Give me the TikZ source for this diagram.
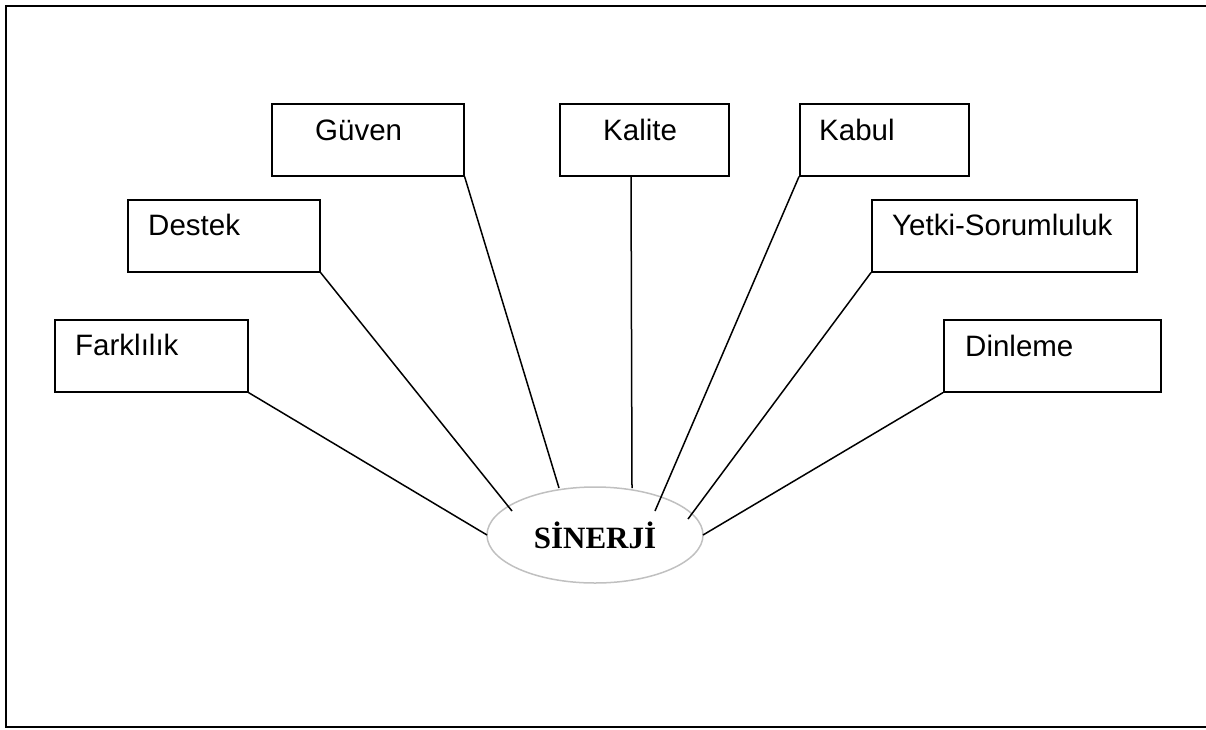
\documentclass[tikz,border=0pt]{standalone}
\usepackage{fontspec}
\setmainfont{Liberation Serif}
\newfontfamily\arialf{Liberation Sans}
\usetikzlibrary{shapes.geometric,calc}
\definecolor{ellgray}{RGB}{192,192,192}
\begin{document}
\begin{tikzpicture}[x=1pt,y=-1pt,
  box/.style={draw=black,line width=1.6pt,rectangle,anchor=north west,inner sep=0pt,minimum height=72pt},
  lbl/.style={anchor=base west,inner sep=0pt,font=\arialf\fontsize{29.5}{35}\selectfont},
  link/.style={draw=black,line width=1.5pt},
]
\path[use as bounding box] (0,0) rectangle (1206,729);
\draw[line width=2.5pt] (1212,6) -- (6,6) -- (6,727) -- (1212,727);

% boxes
\node[box,minimum width=193pt] (far) at (54,319) {};
\node[box,minimum width=192pt] (des) at (127,199) {};
\node[box,minimum width=192pt] (guv) at (271,103) {};
\node[box,minimum width=169pt] (kal) at (559,103) {};
\node[box,minimum width=169pt] (kab) at (799,103) {};
\node[box,minimum width=265pt] (yet) at (871,199) {};
\node[box,minimum width=217pt] (din) at (943,319) {};

% labels
\node[lbl] (tfar) at (75,355) {Farklılık};
\node[lbl] (tdes) at (148,235) {Destek};
\node[lbl] (tguv) at (315,140) {Güven};
\node[lbl] (tkal) at (603,140) {Kalite};
\node[lbl] (tkab) at (819,140) {Kabul};
\node[lbl] (tyet) at (892,235) {Yetki-Sorumluluk};
\node[lbl] (tdin) at (965,356) {Dinleme};

% centre
\node[ellipse,draw=ellgray,line width=1.5pt,minimum width=216pt,minimum height=96pt,inner sep=0pt,
      font=\bfseries\fontsize{31}{36}\selectfont] (sin) at (595,535) {SİNERJİ};

% end points on / in the ellipse
\coordinate (eFar) at ($(sin.center)+(-108,0)$);
\coordinate (eDes) at ($(sin.center)+(-83,-24)$);
\coordinate (eGuv) at ($(sin.center)+(-36,-47)$);
\coordinate (eKal) at ($(sin.center)+(37,-47)$);
\coordinate (eKab) at ($(sin.center)+(60,-24)$);
\coordinate (eYet) at ($(sin.center)+(93,-16)$);
\coordinate (eDin) at ($(sin.center)+(108,0)$);
\coordinate (sKal) at ($(kal.south west)+(72,0)$);

\draw[link] (far.south east) -- (eFar);
\draw[link] (des.south east) -- (eDes);
\draw[link] (guv.south east) -- (eGuv);
\draw[link] (sKal) -- (eKal);
\draw[link] (kab.south west) -- (eKab);
\draw[link] (yet.south west) -- (eYet);
\draw[link] (din.south west) -- (eDin);
\end{tikzpicture}
\end{document}
